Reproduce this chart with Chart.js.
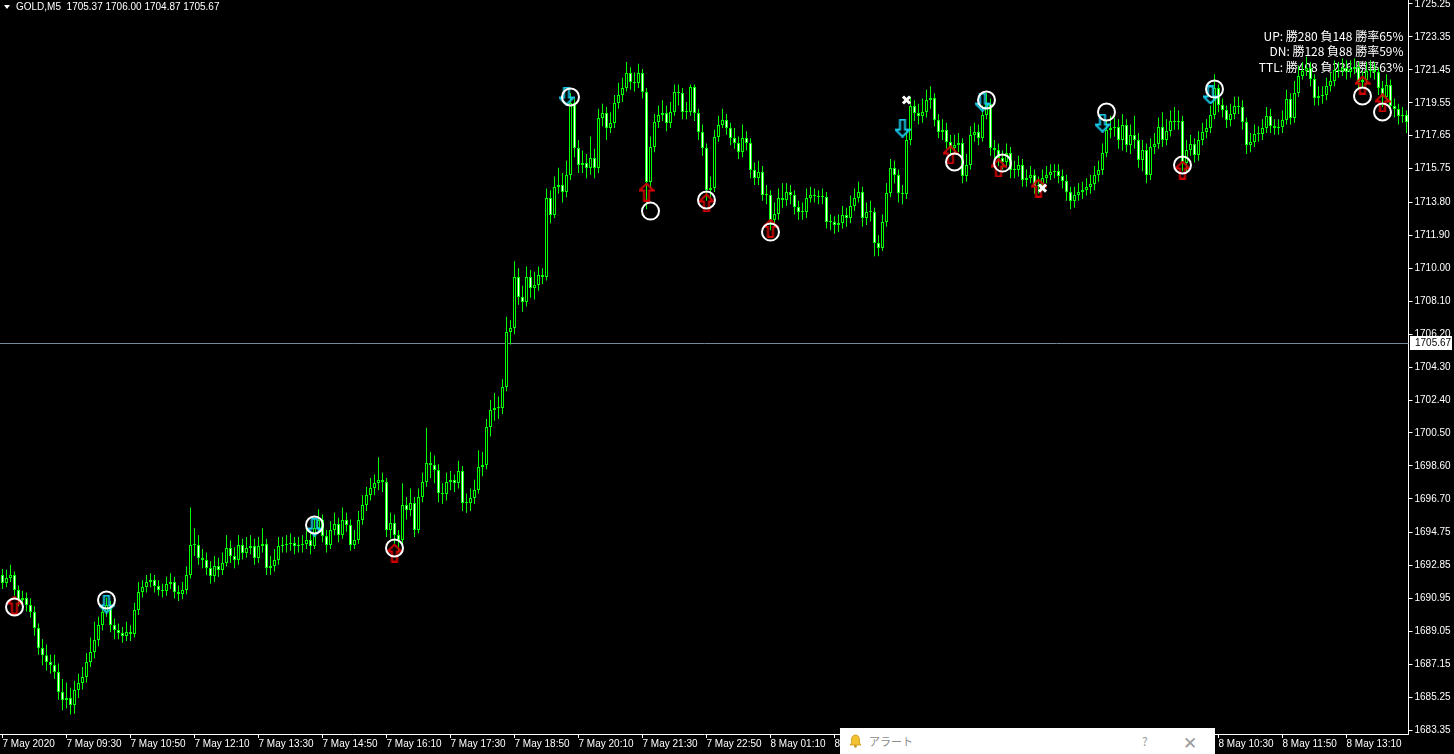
<!DOCTYPE html>
<html><head><meta charset="utf-8">
<script src="https://cdn.jsdelivr.net/npm/chart.js@4.4.1/dist/chart.umd.min.js"></script>
<style>
html,body{margin:0;padding:0;background:#000;overflow:hidden}
#wrap{position:relative;width:1454px;height:754px;background:#000}
#alert{position:absolute;left:840px;top:728px;width:375px;height:26px;background:#fff;font-family:"Noto Sans CJK JP","Noto Sans",sans-serif}
#alert .t{position:absolute;left:29px;top:5px;font-size:11px;color:#8a8a8a}
#alert .q{position:absolute;left:302px;top:4px;font-size:12px;color:#9a9a9a}
#alert .x{position:absolute;left:343px;top:1px;font-size:17px;color:#9a9a9a;font-weight:300}
#alert svg{position:absolute;left:9px;top:6px}
</style></head><body>
<div id="wrap"><canvas id="c" width="1454" height="754"></canvas>
<div id="alert"><svg width="13" height="14" viewBox="0 0 13 14"><path d="M6.5 1 C3.5 1 2.5 3.5 2.5 6 L2.5 9 L1 11 L12 11 L10.5 9 L10.5 6 C10.5 3.5 9.5 1 6.5 1 Z" fill="#f2c230" stroke="#c9961a" stroke-width="0.8"/><circle cx="6.5" cy="12.3" r="1.4" fill="#c9961a"/></svg><span class="t">アラート</span><span class="q">?</span><span class="x">✕</span></div>
</div>
<script>
const symbolHeader = "GOLD,M5  1705.37 1706.00 1704.87 1705.67";
const currentPrice = 1705.67;
const statsLines = ["UP: 勝280 負148 勝率65%", "DN: 勝128 負88 勝率59%", "TTL: 勝408 負236 勝率63%"];

const opens = [1692.30,1691.84,1692.13,1692.30,1691.44,1690.86,1690.98,1690.57,1690.17,1689.25,
1688.09,1687.68,1687.28,1687.11,1686.71,1685.55,1685.09,1685.21,1684.80,1685.67,
1686.07,1686.42,1687.28,1687.86,1688.55,1689.42,1690.17,1690.57,1689.42,1689.13,
1688.96,1688.78,1689.01,1688.90,1690.28,1691.32,1691.61,1691.90,1692.01,1691.67,
1691.44,1691.38,1691.78,1691.90,1691.32,1691.21,1691.44,1692.30,1694.03,1694.03,
1693.28,1693.17,1692.71,1692.24,1692.82,1692.59,1692.99,1693.86,1693.40,1693.17,
1694.03,1693.57,1693.86,1693.98,1693.28,1693.98,1694.09,1692.71,1692.82,1693.17,
1693.98,1694.03,1694.09,1694.15,1693.98,1694.03,1694.09,1694.32,1693.98,1695.02,
1695.48,1694.55,1694.03,1694.90,1695.25,1694.61,1695.48,1695.19,1694.03,1694.32,
1695.48,1696.34,1696.92,1697.32,1697.61,1697.78,1697.67,1694.90,1695.31,1694.61,
1694.32,1696.34,1696.05,1696.46,1694.90,1696.80,1697.67,1698.77,1698.65,1698.36,
1697.03,1696.98,1697.67,1697.78,1697.61,1698.30,1696.46,1696.46,1696.75,1697.21,
1698.53,1698.65,1700.84,1701.82,1701.94,1701.94,1703.15,1706.32,1706.55,1709.50,
1708.34,1708.05,1709.50,1708.86,1709.04,1709.61,1709.50,1714.06,1713.07,1714.69,
1714.81,1714.40,1715.38,1719.54,1716.94,1715.96,1716.07,1715.79,1716.36,1715.79,
1718.67,1718.96,1718.09,1718.38,1719.54,1720.00,1720.40,1721.27,1720.75,1720.69,
1721.27,1720.17,1714.98,1717.00,1718.44,1718.84,1718.96,1718.38,1719.02,1720.17,
1720.11,1719.02,1719.02,1720.46,1718.96,1717.86,1716.94,1714.52,1714.63,1717.58,
1718.27,1718.56,1718.09,1717.52,1717.23,1716.71,1717.52,1717.23,1715.67,1715.21,
1715.56,1714.23,1714.23,1712.79,1713.13,1714.06,1713.94,1714.40,1714.23,1713.54,
1713.25,1713.25,1714.06,1714.23,1714.17,1714.11,1714.11,1712.67,1712.67,1712.50,
1712.61,1713.07,1712.90,1713.59,1714.06,1714.40,1712.90,1713.25,1713.25,1711.46,
1711.17,1712.67,1714.34,1715.79,1715.38,1714.34,1714.29,1717.40,1719.36,1718.96,
1718.79,1719.02,1719.71,1719.83,1718.56,1717.86,1717.98,1717.29,1716.94,1717.11,
1717.23,1715.32,1715.96,1717.69,1717.86,1717.52,1718.84,1719.48,1716.94,1716.83,
1716.36,1716.13,1716.65,1715.67,1715.67,1715.96,1715.09,1715.21,1715.38,1714.75,
1714.81,1715.21,1715.38,1715.56,1715.61,1715.32,1715.04,1714.40,1713.88,1714.23,
1714.40,1714.52,1714.69,1714.86,1715.38,1715.67,1716.65,1717.98,1718.09,1718.15,
1717.40,1718.27,1717.11,1717.69,1717.40,1716.25,1716.83,1715.38,1717.00,1717.17,
1718.15,1717.40,1717.92,1718.50,1718.44,1718.50,1716.07,1716.83,1717.17,1716.54,
1717.40,1717.86,1718.09,1718.84,1720.40,1719.42,1719.13,1718.56,1718.90,1719.36,
1719.31,1718.44,1717.11,1717.29,1717.75,1717.75,1718.09,1718.79,1718.21,1718.09,
1718.15,1718.56,1719.77,1718.67,1720.11,1721.09,1721.38,1721.56,1720.92,1719.83,
1719.94,1720.00,1720.52,1720.81,1721.44,1721.38,1721.56,1721.33,1721.50,1721.61,
1720.75,1720.86,1721.38,1721.44,1721.33,1720.40,1719.88,1720.57,1719.36,1719.19,
1718.79,1718.84];

const closes = [1691.84,1692.13,1692.30,1691.44,1690.86,1690.98,1690.57,1690.17,1689.25,1688.09,
1687.68,1687.28,1687.11,1686.71,1685.55,1685.09,1685.21,1684.80,1685.67,1686.07,
1686.42,1687.28,1687.86,1688.55,1689.42,1690.17,1690.57,1689.42,1689.13,1688.96,
1688.78,1689.01,1688.90,1690.28,1691.32,1691.61,1691.90,1692.01,1691.67,1691.44,
1691.38,1691.78,1691.90,1691.32,1691.21,1691.44,1692.30,1694.03,1694.03,1693.28,
1693.17,1692.71,1692.24,1692.82,1692.59,1692.99,1693.86,1693.40,1693.17,1694.03,
1693.57,1693.86,1693.98,1693.28,1693.98,1694.09,1692.71,1692.82,1693.17,1693.98,
1694.03,1694.09,1694.15,1693.98,1694.03,1694.09,1694.32,1693.98,1695.02,1695.48,
1694.55,1694.03,1694.90,1695.25,1694.61,1695.48,1695.19,1694.03,1694.32,1695.48,
1696.34,1696.92,1697.32,1697.61,1697.78,1697.67,1694.90,1695.31,1694.61,1694.32,
1696.34,1696.05,1696.46,1694.90,1696.80,1697.67,1698.77,1698.65,1698.36,1697.03,
1696.98,1697.67,1697.78,1697.61,1698.30,1696.46,1696.46,1696.75,1697.21,1698.53,
1698.65,1700.84,1701.82,1701.94,1701.94,1703.15,1706.32,1706.55,1709.50,1708.34,
1708.05,1709.50,1708.86,1709.04,1709.61,1709.50,1714.06,1713.07,1714.69,1714.81,
1714.40,1715.38,1719.54,1716.94,1715.96,1716.07,1715.79,1716.36,1715.79,1718.67,
1718.96,1718.09,1718.38,1719.54,1720.00,1720.40,1721.27,1720.75,1720.69,1721.27,
1720.17,1714.98,1717.00,1718.44,1718.84,1718.96,1718.38,1719.02,1720.17,1720.11,
1719.02,1719.02,1720.46,1718.96,1717.86,1716.94,1714.52,1714.63,1717.58,1718.27,
1718.56,1718.09,1717.52,1717.23,1716.71,1717.52,1717.23,1715.67,1715.21,1715.56,
1714.23,1714.23,1712.79,1713.13,1714.06,1713.94,1714.40,1714.23,1713.54,1713.25,
1713.25,1714.06,1714.23,1714.17,1714.11,1714.11,1712.67,1712.67,1712.50,1712.61,
1713.07,1712.90,1713.59,1714.06,1714.40,1712.90,1713.25,1713.25,1711.46,1711.17,
1712.67,1714.34,1715.79,1715.38,1714.34,1714.29,1717.40,1719.36,1718.96,1718.79,
1719.02,1719.71,1719.83,1718.56,1717.86,1717.98,1717.29,1716.94,1717.11,1717.23,
1715.32,1715.96,1717.69,1717.86,1717.52,1718.84,1719.48,1716.94,1716.83,1716.36,
1716.13,1716.65,1715.67,1715.67,1715.96,1715.09,1715.21,1715.38,1714.75,1714.81,
1715.21,1715.38,1715.56,1715.61,1715.32,1715.04,1714.40,1713.88,1714.23,1714.40,
1714.52,1714.69,1714.86,1715.38,1715.67,1716.65,1717.98,1718.09,1718.15,1717.40,
1718.27,1717.11,1717.69,1717.40,1716.25,1716.83,1715.38,1717.00,1717.17,1718.15,
1717.40,1717.92,1718.50,1718.44,1718.50,1716.07,1716.83,1717.17,1716.54,1717.40,
1717.86,1718.09,1718.84,1720.40,1719.42,1719.13,1718.56,1718.90,1719.36,1719.31,
1718.44,1717.11,1717.29,1717.75,1717.75,1718.09,1718.79,1718.21,1718.09,1718.15,
1718.56,1719.77,1718.67,1720.11,1721.09,1721.38,1721.56,1720.92,1719.83,1719.94,
1720.00,1720.52,1720.81,1721.44,1721.38,1721.56,1721.33,1721.50,1721.61,1720.75,
1720.86,1721.38,1721.44,1721.33,1720.40,1719.88,1720.57,1719.36,1719.19,1718.79,
1718.84,1718.44];

const highs = [1692.65,1692.60,1692.90,1692.50,1691.70,1691.40,1691.30,1690.95,1690.50,1689.50,
1688.60,1688.30,1687.70,1687.70,1687.20,1686.30,1686.10,1685.80,1686.20,1686.60,
1687.00,1687.80,1688.70,1689.60,1689.90,1690.60,1691.00,1690.80,1689.80,1689.50,
1689.30,1689.60,1689.40,1690.70,1691.90,1692.00,1692.30,1692.40,1692.30,1692.00,
1691.80,1692.20,1692.40,1692.20,1691.70,1691.90,1692.80,1696.20,1695.00,1694.60,
1693.80,1693.60,1693.10,1693.40,1693.30,1693.60,1694.60,1694.30,1693.90,1694.60,
1694.40,1694.50,1694.60,1694.40,1694.50,1695.00,1694.40,1693.40,1693.80,1694.50,
1694.50,1694.60,1694.70,1694.50,1694.50,1694.60,1694.90,1694.70,1695.60,1696.10,
1695.80,1694.90,1695.40,1695.90,1695.60,1696.20,1695.90,1695.50,1694.90,1696.00,
1696.90,1697.40,1697.90,1698.10,1699.10,1698.20,1697.90,1695.90,1695.80,1694.90,
1697.60,1696.80,1697.30,1696.80,1697.30,1698.20,1700.80,1699.40,1699.20,1698.70,
1697.60,1698.20,1698.30,1698.10,1698.90,1698.60,1697.00,1697.30,1697.80,1699.50,
1699.40,1701.30,1702.40,1702.80,1702.60,1703.60,1707.20,1707.00,1710.40,1710.00,
1709.00,1710.10,1709.90,1709.80,1710.10,1710.00,1714.60,1714.50,1715.30,1715.80,
1715.50,1716.20,1720.10,1719.80,1717.40,1716.80,1716.60,1717.60,1716.90,1719.20,
1719.50,1719.30,1719.00,1720.00,1720.70,1721.00,1721.90,1721.60,1721.30,1721.80,
1721.50,1720.40,1717.60,1718.90,1719.40,1719.70,1719.40,1719.60,1720.60,1720.60,
1720.40,1719.60,1720.60,1720.60,1719.20,1718.30,1717.20,1715.30,1718.00,1718.80,
1719.20,1718.90,1718.40,1718.10,1717.60,1718.30,1717.90,1717.50,1716.10,1716.20,
1715.90,1714.80,1714.50,1713.80,1714.60,1714.90,1714.90,1714.80,1714.50,1713.90,
1713.80,1714.60,1714.70,1714.60,1714.50,1714.60,1714.40,1713.10,1713.00,1713.10,
1713.60,1713.50,1714.20,1714.60,1715.00,1714.70,1713.80,1713.90,1713.50,1711.90,
1713.10,1714.90,1716.30,1716.20,1715.70,1714.80,1717.90,1719.90,1719.70,1719.50,
1719.80,1720.30,1720.50,1720.10,1718.90,1718.60,1718.40,1717.70,1717.70,1717.80,
1717.50,1716.60,1718.20,1718.40,1718.30,1719.40,1720.10,1719.80,1717.40,1717.20,
1716.80,1717.20,1717.00,1716.20,1716.50,1716.30,1715.70,1715.90,1715.70,1715.30,
1715.70,1715.90,1716.00,1716.00,1716.00,1715.70,1715.40,1714.70,1714.70,1714.90,
1715.00,1715.20,1715.40,1715.90,1716.20,1717.20,1718.50,1718.80,1718.70,1718.60,
1718.90,1718.60,1718.30,1718.80,1717.80,1717.40,1717.20,1717.50,1717.80,1718.70,
1719.00,1718.60,1719.10,1719.30,1719.10,1718.80,1717.40,1717.70,1717.50,1717.90,
1718.40,1718.60,1719.40,1721.20,1720.60,1719.80,1719.40,1719.50,1719.90,1719.90,
1719.70,1718.70,1717.80,1718.30,1718.20,1718.60,1719.30,1719.20,1718.60,1718.60,
1719.10,1720.30,1720.10,1720.80,1721.70,1721.90,1722.20,1721.90,1721.20,1720.50,
1720.50,1721.00,1721.30,1722.00,1721.90,1722.10,1722.00,1722.00,1722.10,1721.90,
1721.40,1721.90,1722.00,1721.90,1721.60,1720.80,1721.20,1720.90,1719.80,1719.50,
1719.30,1719.10];

const lows = [1691.50,1691.60,1691.90,1691.10,1690.50,1690.55,1690.20,1689.85,1688.80,1687.70,
1687.10,1686.80,1686.60,1686.30,1685.10,1684.50,1684.60,1684.25,1684.30,1685.20,
1685.70,1686.10,1687.00,1687.50,1688.20,1689.10,1689.90,1689.00,1688.60,1688.60,
1688.40,1688.50,1688.50,1688.70,1690.00,1691.00,1691.30,1691.60,1691.30,1691.10,
1691.00,1691.10,1691.50,1690.95,1690.80,1690.90,1691.20,1692.10,1693.40,1692.90,
1692.70,1692.30,1691.80,1691.90,1692.20,1692.30,1692.80,1693.00,1692.70,1692.90,
1693.20,1693.30,1693.50,1692.90,1693.00,1693.60,1692.30,1692.30,1692.50,1692.90,
1693.60,1693.60,1693.70,1693.50,1693.60,1693.60,1693.80,1693.50,1693.80,1694.80,
1694.20,1693.60,1693.80,1694.60,1694.20,1694.40,1694.80,1693.70,1693.80,1694.10,
1695.20,1696.00,1696.60,1696.90,1697.20,1697.10,1694.50,1694.40,1694.10,1693.60,
1694.10,1695.50,1695.70,1694.50,1694.70,1696.50,1697.40,1697.90,1697.60,1696.50,
1696.40,1696.60,1697.20,1697.10,1697.30,1696.00,1695.90,1696.00,1696.40,1697.00,
1698.00,1698.40,1700.30,1701.20,1701.30,1701.60,1702.90,1705.60,1706.20,1707.90,
1707.50,1707.80,1708.30,1708.20,1708.70,1709.10,1709.30,1712.60,1712.90,1714.30,
1713.80,1714.10,1715.10,1716.40,1715.50,1715.50,1715.20,1715.40,1715.20,1715.50,
1718.20,1717.40,1717.80,1718.10,1719.20,1719.60,1720.20,1720.30,1720.20,1720.40,
1719.80,1713.40,1714.60,1716.70,1718.10,1718.50,1717.90,1718.10,1718.80,1719.40,
1718.60,1718.60,1718.80,1718.50,1717.40,1716.50,1713.90,1714.10,1714.40,1717.30,
1718.10,1717.70,1717.10,1716.90,1716.30,1716.40,1716.80,1715.20,1714.80,1714.80,
1713.90,1713.70,1712.20,1712.40,1712.80,1713.50,1713.60,1713.70,1713.10,1712.80,
1712.80,1712.90,1713.80,1713.80,1713.70,1713.70,1712.30,1712.20,1712.00,1712.10,
1712.30,1712.40,1712.60,1713.30,1713.80,1712.40,1712.50,1712.70,1710.70,1710.70,
1711.00,1712.40,1714.10,1714.90,1713.80,1713.70,1714.00,1717.10,1718.50,1718.30,
1718.40,1718.70,1719.20,1718.20,1717.50,1717.40,1716.90,1716.50,1716.60,1716.70,
1714.90,1715.00,1715.70,1717.30,1717.10,1717.30,1718.60,1716.50,1716.30,1715.90,
1715.70,1715.80,1715.20,1715.20,1715.30,1714.70,1714.70,1714.90,1714.30,1714.30,
1714.50,1714.90,1715.10,1715.20,1714.90,1714.60,1713.90,1713.40,1713.50,1713.90,
1714.00,1714.20,1714.30,1714.50,1715.00,1715.40,1716.40,1717.50,1717.60,1716.90,
1716.80,1716.70,1716.60,1716.90,1715.80,1715.60,1714.90,1715.10,1716.60,1716.90,
1717.00,1717.10,1717.60,1718.00,1718.00,1715.60,1715.60,1716.50,1716.10,1716.20,
1717.10,1717.50,1717.80,1718.60,1719.00,1718.70,1718.10,1718.20,1718.60,1718.90,
1718.00,1716.60,1716.70,1717.00,1717.30,1717.40,1717.80,1717.80,1717.70,1717.70,
1717.80,1718.30,1718.30,1718.40,1719.90,1720.90,1721.10,1720.50,1719.40,1719.40,
1719.50,1719.70,1720.20,1720.50,1721.00,1721.10,1720.90,1721.00,1721.20,1720.30,
1720.40,1720.60,1721.00,1720.90,1720.00,1719.30,1719.60,1718.80,1718.70,1718.30,
1718.40,1717.80];

const xTickIdx = [0,16,32,48,64,80,96,112,128,144,160,176,192,208,224,240,256,272,288,304,320,336];
const xTickText = ["7 May 2020","7 May 09:30","7 May 10:50","7 May 12:10","7 May 13:30","7 May 14:50","7 May 16:10","7 May 17:30","7 May 18:50","7 May 20:10","7 May 21:30","7 May 22:50","8 May 01:10","8 May 02:30","8 May 03:50","8 May 05:10","8 May 06:30","8 May 07:50","8 May 09:10","8 May 10:30","8 May 11:50","8 May 13:10"];
const yTicks = [1725.25,1723.35,1721.45,1719.55,1717.65,1715.75,1713.80,1711.90,1710.00,1708.10,1706.20,1704.30,1702.40,1700.50,1698.60,1696.70,1694.75,1692.85,1690.95,1689.05,1687.15,1685.25,1683.35];

const circleIdx = [3,26,78,98,142,162,176,192,238,246,250,276,295,303,340,345];
const circlePrice = [1690.46,1690.86,1695.19,1693.86,1719.88,1713.30,1713.94,1712.09,1716.13,1719.71,1716.07,1719.02,1715.96,1720.34,1719.94,1719.02];
const upArrowIdx = [3,98,161,176,192,237,249,259,295,340,345];
const upArrowPrice = [1690.57,1693.57,1714.40,1713.77,1712.30,1716.54,1715.79,1714.63,1715.67,1720.57,1719.54];
const downArrowIdx = [26,78,141,225,245,275,302];
const downArrowPrice = [1690.63,1695.07,1719.94,1718.09,1719.59,1718.38,1720.00];
const crossIdx = [226,260];
const crossPrice = [1719.71,1714.63];

const categories = closes.map((_, i) => i);

function arrowImg(color, up) {
  const c = document.createElement('canvas');
  c.width = 16; c.height = 19;
  const g = c.getContext('2d');
  if (!up) { g.translate(0, 19); g.scale(1, -1); }
  g.beginPath();
  g.moveTo(8, 1); g.lineTo(15, 8); g.lineTo(10.5, 8); g.lineTo(10.5, 18); g.lineTo(5.5, 18); g.lineTo(5.5, 8); g.lineTo(1, 8); g.closePath();
  g.strokeStyle = color; g.lineWidth = 2; g.stroke();
  return c;
}
const upImg = arrowImg('#d40000', true);
const downImg = arrowImg('#18c8e8', false);

const lime = '#00ff00';
const pts = (idx, pr) => idx.map((v, k) => ({x: v, y: pr[k]}));

const overlay = {
  id: 'overlay',
  beforeDatasetsDraw(chart) {
    const ctx = chart.ctx, a = chart.chartArea, ys = chart.scales.y;
    ctx.save();
    const py = Math.round(ys.getPixelForValue(currentPrice)) + 0.5;
    ctx.strokeStyle = '#778899'; ctx.lineWidth = 1;
    ctx.beginPath(); ctx.moveTo(0, py); ctx.lineTo(a.right, py); ctx.stroke();
    ctx.font = '12px "Noto Sans CJK JP"'; ctx.fillStyle = '#ffffff';
    ctx.textAlign = 'right'; ctx.textBaseline = 'middle';
    statsLines.forEach((t, k) => ctx.fillText(t, a.right - 5, 36 + k * 15.5));
    ctx.restore();
  },
  afterDraw(chart) {
    const ctx = chart.ctx, a = chart.chartArea, ys = chart.scales.y;
    ctx.save();
    ctx.fillStyle = '#ffffff';
    ctx.beginPath(); ctx.moveTo(4, 5); ctx.lineTo(10, 5); ctx.lineTo(7, 9); ctx.closePath(); ctx.fill();
    ctx.font = '10px "Liberation Sans"'; ctx.textBaseline = 'middle'; ctx.textAlign = 'left';
    ctx.fillText(symbolHeader, 16, 7.5);
    const py = Math.round(ys.getPixelForValue(currentPrice));
    ctx.fillStyle = '#ffffff';
    ctx.fillRect(Math.round(a.right) + 1, py - 7, 42, 14);
    ctx.fillStyle = '#000000';
    ctx.fillText(currentPrice.toFixed(2), Math.round(a.right) + 6, py + 0.5);
    ctx.restore();
  }
};

new Chart(document.getElementById('c'), {
  data: {
    labels: categories,
    datasets: [
      { type: 'line', data: pts(circleIdx, circlePrice), showLine: false, order: 0,
        pointStyle: 'circle', pointRadius: 8.5, pointBorderWidth: 2, pointBorderColor: '#ffffff', pointBackgroundColor: 'rgba(0,0,0,0)' },
      { type: 'line', data: pts(crossIdx, crossPrice), showLine: false, order: 1,
        pointStyle: 'crossRot', pointRadius: 5, pointBorderWidth: 3, pointBorderColor: '#ffffff' },
      { type: 'line', data: pts(upArrowIdx, upArrowPrice), showLine: false, order: 2, pointStyle: upImg },
      { type: 'line', data: pts(downArrowIdx, downArrowPrice), showLine: false, order: 3, pointStyle: downImg },
      { type: 'bar', order: 4, grouped: false, data: opens.map((o, i) => [o, closes[i]]),
        barThickness: 3, borderWidth: 1, borderColor: lime, borderSkipped: false, inflateAmount: 0, minBarLength: 1,
        backgroundColor: opens.map((o, i) => closes[i] >= o ? '#000000' : '#ffffff') },
      { type: 'bar', order: 5, grouped: false, data: lows.map((l, i) => [l, highs[i]]),
        barThickness: 1, borderWidth: 0, inflateAmount: 0, backgroundColor: lime }
    ]
  },
  options: {
    responsive: false, animation: false, devicePixelRatio: 1,
    layout: { autoPadding: false, padding: { left: 0.5, top: 0, right: 0, bottom: 0 } },
    plugins: { legend: { display: false }, tooltip: { enabled: false } },
    elements: { point: { hitRadius: 0 } },
    scales: {
      x: {
        type: 'category', offset: true,
        grid: { display: true, offset: false, drawOnChartArea: false, drawTicks: true, tickLength: 4, color: '#ffffff' },
        border: { display: true, color: '#ffffff', width: 1 },
        afterBuildTicks: (s) => { s.ticks = xTickIdx.map(v => ({ value: v })); },
        afterFit: (s) => { s.height = 20; s.paddingLeft = 0; s.paddingRight = 0; },
        ticks: { autoSkip: false, maxRotation: 0, minRotation: 0, align: 'start', padding: 0, color: '#ffffff',
          font: { family: 'Liberation Sans', size: 10 },
          callback: (v) => { const k = xTickIdx.indexOf(v); return k >= 0 ? xTickText[k] : ''; } }
      },
      y: {
        position: 'right', min: 1683.13, max: 1725.48,
        grid: { display: true, drawOnChartArea: false, drawTicks: true, tickLength: 4, color: '#ffffff' },
        border: { display: true, color: '#ffffff', width: 1 },
        afterBuildTicks: (s) => { s.ticks = yTicks.map(v => ({ value: v })); },
        afterFit: (s) => { s.width = 45.5; s.paddingTop = 0; s.paddingBottom = 0; },
        ticks: { padding: 2, color: '#ffffff', font: { family: 'Liberation Sans', size: 10 },
          callback: (v) => Number(v).toFixed(2) }
      }
    }
  },
  plugins: [overlay]
});
</script>
</body></html>
